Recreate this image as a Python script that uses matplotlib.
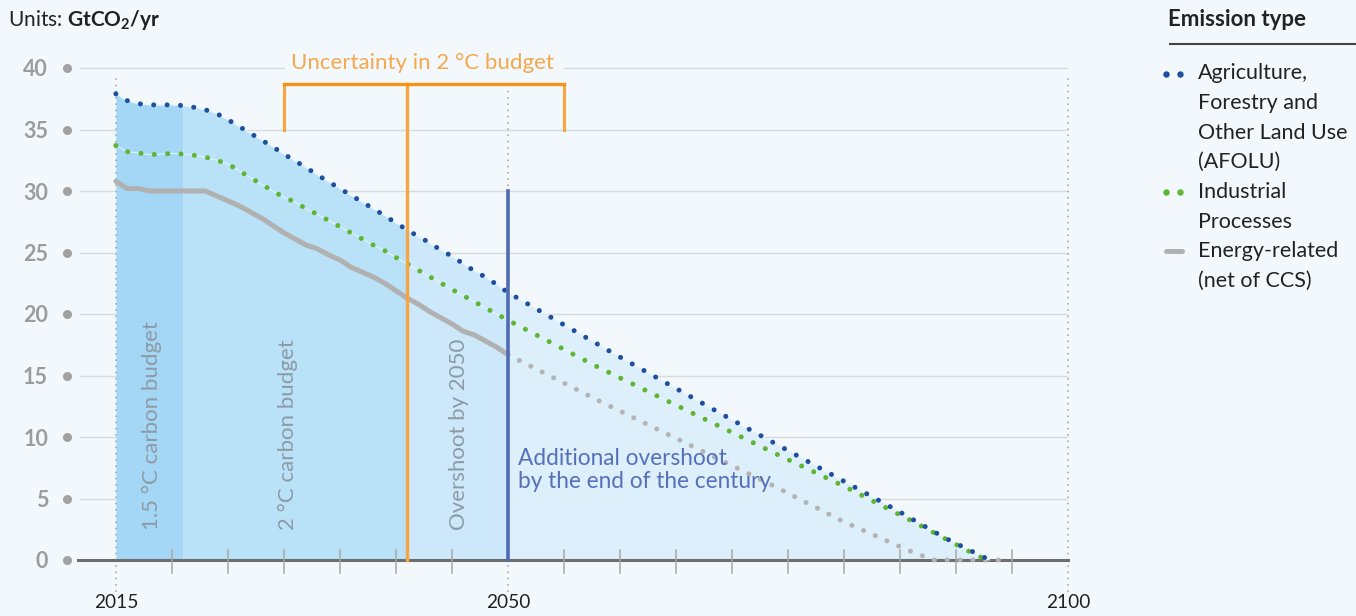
import matplotlib
matplotlib.use("Agg")
import matplotlib.pyplot as plt
import numpy as np

plt.rcParams['font.family'] = ['Lato', 'DejaVu Sans']
plt.rcParams['mathtext.fontset'] = 'custom'
plt.rcParams['mathtext.rm'] = 'Lato'
plt.rcParams['mathtext.bf'] = 'Lato:bold'

# Data (GtCO2/yr)
afolu_years = [2015, 2016, 2017, 2018, 2019, 2020, 2021, 2022, 2023, 2024, 2025, 2026, 2027,
               2028, 2029, 2030, 2031, 2032, 2033, 2034, 2035, 2036, 2037, 2038, 2039, 2040,
               2041, 2042, 2043, 2044, 2045, 2046, 2047, 2048, 2049, 2050, 2060, 2070, 2080,
               2085, 2089, 2093]
afolu = [37.9, 37.35, 37.1, 37.0, 37.0, 37.0, 36.95, 36.8, 36.6, 36.3, 35.8, 35.25, 34.7,
         34.15, 33.6, 33.0, 32.45, 31.9, 31.3, 30.75, 30.2, 29.65, 29.1, 28.55, 28.0, 27.4,
         26.85, 26.3, 25.8, 25.2, 24.7, 24.1, 23.5, 23.0, 22.4, 21.75, 16.5, 11.4, 6.4,
         3.9, 1.8, 0.0]

ind_years = [2015, 2016, 2017, 2018, 2019, 2020, 2021, 2022, 2023, 2024, 2025, 2026, 2027,
             2028, 2029, 2030, 2031, 2032, 2033, 2034, 2035, 2036, 2037, 2038, 2039, 2040,
             2045, 2050, 2058, 2074, 2080, 2086, 2092, 2093]
industrial = [33.7, 33.2, 33.1, 32.95, 33.0, 33.05, 33.0, 32.9, 32.75, 32.5, 32.2, 31.65, 31.1,
              30.55, 30.0, 29.5, 29.1, 28.55, 28.1, 27.6, 27.1, 26.6, 26.1, 25.6, 25.15, 24.6,
              22.0, 19.5, 15.7, 8.6, 6.0, 3.2, 0.3, 0.0]

energy_years = [2015, 2016, 2017, 2018, 2019, 2020, 2021, 2022, 2023, 2024, 2025, 2026, 2027,
                2028, 2029, 2030, 2031, 2032, 2033, 2034, 2035, 2036, 2037, 2038, 2039, 2040,
                2041, 2042, 2043, 2044, 2045, 2046, 2047, 2048, 2049, 2050]
energy = [30.8, 30.2, 30.2, 30.0, 30.0, 30.0, 30.0, 30.0, 30.0, 29.6, 29.2, 28.8, 28.3,
          27.8, 27.2, 26.6, 26.1, 25.6, 25.3, 24.8, 24.4, 23.8, 23.4, 23.0, 22.5, 21.9,
          21.3, 20.8, 20.2, 19.7, 19.2, 18.6, 18.3, 17.8, 17.3, 16.7]
energy_proj_years = [2050, 2058, 2074, 2080, 2081.5, 2083.5, 2085.7, 2088, 2094]
energy_proj = [16.7, 13.0, 5.9, 3.1, 2.5, 1.7, 0.8, 0.0, 0.0]

budget_bounds = [2015, 2021, 2041, 2050, 2093]
budget_colors = ['#a4d7f5', '#b9e1f8', '#cce8fa', '#ddeffb']
uncert_low, uncert_mid, uncert_high = 2030, 2041, 2055

y_ticks = [0, 5, 10, 15, 20, 25, 30, 35, 40]
x_labels = [2015, 2050, 2100]
minor_years = [y for y in range(2020, 2100, 5) if y not in x_labels]

BG = '#f2f8fc'
W, H = 1356, 616


def fx(x):
    return x / W


def fy(y):
    return 1 - y / H


fig = plt.figure(figsize=(W / 100, H / 100), dpi=100, facecolor=BG)
ax = fig.add_axes([80 / W, (H - 596.9) / H, 988 / W, 541.2 / H])
ax.set_facecolor('none')
ax.set_xlim(2011.8, 2100)
ax.set_ylim(-3, 41)
for s in ax.spines.values():
    s.set_visible(False)

# gridlines
for yv in y_ticks[1:-1]:
    ax.plot([2011.8, 2100], [yv, yv], color='#d6dadd', lw=1.0, zorder=1)
ax.plot([2011.8, uncert_low], [40, 40], color='#d6dadd', lw=1.0, zorder=1)
ax.plot([uncert_high, 2100], [40, 40], color='#d6dadd', lw=1.0, zorder=1)

# budget areas under the AFOLU line
ay = np.array(afolu_years)
av = np.array(afolu)
for a, b, c in zip(budget_bounds[:-1], budget_bounds[1:], budget_colors):
    m = (ay >= a) & (ay <= b)
    ax.fill_between(ay[m], 0, av[m], color=c, lw=0, zorder=2)

# dotted reference verticals
dot_ref = dict(color='#a3abb2', lw=1.4, linestyle=(0, (0.01, 3.2)),
               dash_capstyle='round', clip_on=False, zorder=3)
ax.plot([2015, 2015], [-2.5, 39.3], **dot_ref)
ax.plot([2050, 2050], [-2.5, 38.5], **dot_ref)
ax.plot([2100, 2100], [-2.5, 39.6], **dot_ref)

# x axis
ax.plot([2011.6, 2100], [0, 0], color='#6e6e6e', lw=2.2, zorder=6, clip_on=False)
for yr in minor_years:
    ax.plot([yr, yr], [-1.05, 0.8], color='#a8a8a8', lw=1.1, zorder=6)

# series
ax.plot(energy_years, energy, color='#b1b1b1', lw=3.6, solid_capstyle='round',
        solid_joinstyle='round', zorder=7)
ax.plot(energy_proj_years, energy_proj, color='#b3b3b3', lw=3.6,
        linestyle=(0, (0.01, 2.55)), dash_capstyle='round', zorder=7)
ax.plot(ind_years, industrial, color='#eaf5fc', lw=0.7, zorder=7)
ax.plot(ind_years, industrial, color='#5db532', lw=3.6,
        linestyle=(0, (0.01, 2.67)), dash_capstyle='round', zorder=8)
ax.plot(afolu_years, afolu, color='#eaf5fc', lw=0.7, zorder=7)
ax.plot(afolu_years, afolu, color='#1f4f9f', lw=3.6,
        linestyle=(0, (0.01, 2.67)), dash_capstyle='round', zorder=8)

# uncertainty bracket
ax.plot([uncert_mid, uncert_mid], [0, 38.7], color='#f6a540', lw=2.4, zorder=9)
ax.plot([uncert_low, uncert_low], [35, 38.7], color='#f6a540', lw=2.2, zorder=9)
ax.plot([uncert_high, uncert_high], [35, 38.7], color='#f6a540', lw=2.2, zorder=9)
ax.plot([uncert_low, uncert_high], [38.7, 38.7], color='#f29416', lw=2.4, zorder=9,
        solid_capstyle='projecting')
ax.text((uncert_low + uncert_high) / 2 - 0.1, 40.4, 'Uncertainty in 2 °C budget',
        color='#f6a84c', fontsize=16, ha='center', va='center', zorder=9)

# overshoot line
ax.plot([2050, 2050], [0, 30], color='#4e6cb4', lw=2.6, zorder=9)

# annotations
rot = dict(rotation=90, rotation_mode='anchor', ha='left', va='center',
           color='#8d9ba6', fontsize=16, zorder=10)
ax.text(2018.2, 2.4, '1.5 °C carbon budget', **rot)
ax.text(2030.4, 2.4, '2 °C carbon budget', **rot)
ax.text(2045.6, 2.4, 'Overshoot by 2050', **rot)
ax.text(2050.9, 7.3, 'Additional overshoot\nby the end of the century', color='#5670ba',
        fontsize=16.3, ha='left', va='center', linespacing=1.12, zorder=10)

# y ticks
ax.set_yticks(y_ticks)
ax.set_yticklabels([str(v) for v in y_ticks], color='#9c9c9c', fontsize=15.5, fontweight='bold')
ax.tick_params(axis='y', length=0, pad=23)
ax.plot([-0.0132] * len(y_ticks), y_ticks, 'o', color='#a2a2a2', ms=5.5,
        transform=ax.get_yaxis_transform(), clip_on=False)
ax.set_xticks(x_labels)
ax.set_xticklabels([str(v) for v in x_labels], color='#222222', fontsize=13.8)
ax.tick_params(axis='x', length=0, pad=-2)

# units
fig.text(fx(8), fy(20), r'Units: $\mathbf{GtCO_2/yr}$', fontsize=15, color='#222222',
         ha='left', va='center')

# legend
fig.text(fx(1168), fy(20), 'Emission type', fontsize=16, fontweight='bold',
         color='#222222', ha='left', va='center')
fig.add_artist(plt.Line2D([fx(1170), fx(1356)], [fy(44), fy(44)], color='#444444', lw=1.5))
leg_lines = [(73, 'Agriculture,'), (103, 'Forestry and'), (133, 'Other Land Use'),
             (162, '(AFOLU)'), (192, 'Industrial'), (222, 'Processes'),
             (251, 'Energy-related'), (281, '(net of CCS)')]
for yy, t in leg_lines:
    fig.text(fx(1198), fy(yy), t, fontsize=15.5, color='#222222', ha='left', va='center')
fig.add_artist(plt.Line2D([fx(1166), fx(1180)], [fy(74), fy(74)], color='#1f4f9f',
                          marker='o', ms=3.6, lw=0))
fig.add_artist(plt.Line2D([fx(1166), fx(1180)], [fy(192), fy(192)], color='#5db532',
                          marker='o', ms=3.6, lw=0))
fig.add_artist(plt.Line2D([fx(1166), fx(1182)], [fy(251), fy(251)], color='#b1b1b1',
                          lw=3.6, solid_capstyle='round'))

fig.savefig('out.png', dpi=100, facecolor=BG)
